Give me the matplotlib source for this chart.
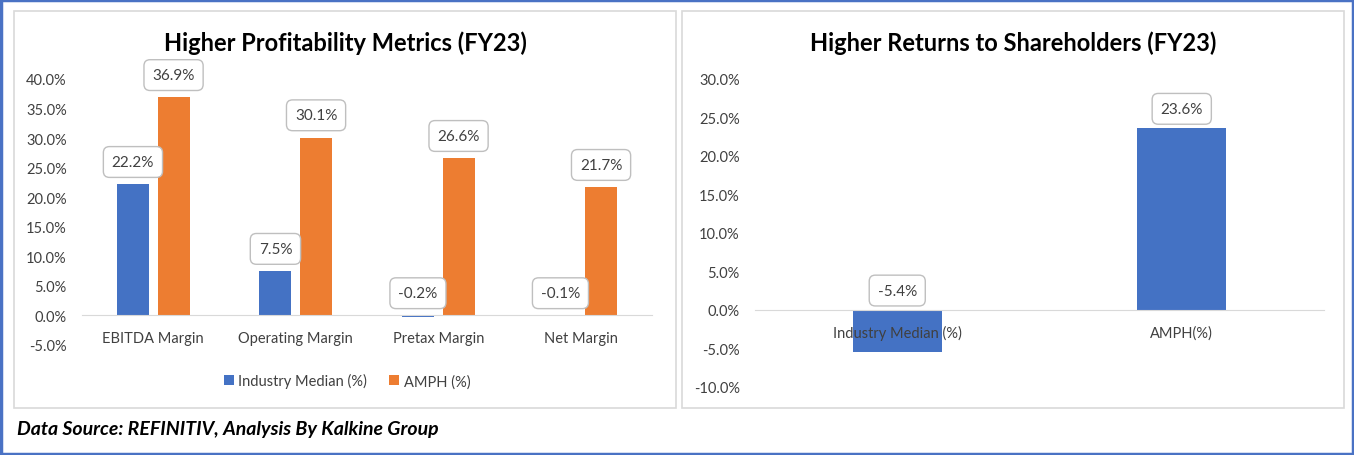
import matplotlib.pyplot as plt
from matplotlib.patches import Rectangle
import numpy as np

plt.rcParams['font.family'] = ['Lato', 'DejaVu Sans']

# Data
metrics = ['EBITDA Margin', 'Operating Margin', 'Pretax Margin', 'Net Margin']
industry_median = [22.2, 7.5, -0.2, -0.1]
amph = [36.9, 30.1, 26.6, 21.7]

ret_labels = ['Industry Median (%)', 'AMPH(%)']
ret_values = [-5.4, 23.6]

BLUE = '#4472C4'
ORANGE = '#ED7D31'
GRID = '#D9D9D9'
TXT = '#404040'

fig = plt.figure(figsize=(13.54, 4.56), dpi=100, facecolor='white')
W, H = 1354, 456


def px_rect(x0, y0, x1, y1, **kw):
    # rectangle in pixel coords (top-left origin)
    r = Rectangle((x0 / W, 1 - y1 / H), (x1 - x0) / W, (y1 - y0) / H,
                  transform=fig.transFigure, fill=False, **kw)
    fig.add_artist(r)


# outer blue border and two panel frames
px_rect(1, 1, W - 1, H - 1, edgecolor='#4A72C4', linewidth=2.5)
px_rect(14, 12, 676, 409, edgecolor=GRID, linewidth=1.2)
px_rect(682, 12, 1344, 409, edgecolor=GRID, linewidth=1.2)


def label_box(ax, x, v, off):
    ax.annotate(f'{v:.1f}%', xy=(x, max(v, 0)), xytext=(0, off),
                textcoords='offset points', ha='center', va='center',
                fontsize=11, color=TXT,
                bbox=dict(boxstyle='round,pad=0.55,rounding_size=0.4',
                          fc='white', ec='#BFBFBF', lw=1))


def style_axis(ax):
    for s in ['top', 'right', 'left']:
        ax.spines[s].set_visible(False)
    ax.spines['bottom'].set_position(('data', 0))
    ax.spines['bottom'].set_color(GRID)
    ax.tick_params(axis='both', length=0, labelsize=10.5, labelcolor=TXT)
    ax.tick_params(axis='y', pad=11)
    ax.tick_params(axis='x', pad=11)
    ax.yaxis.set_major_formatter(plt.FuncFormatter(lambda v, p: f'{v:.1f}%'))


# Left chart
ax1 = fig.add_axes([82 / W, 1 - 346 / H, 570 / W, 266 / H])
x = np.arange(len(metrics))
bw = 0.225
gap = 0.03
ax1.bar(x - bw / 2 - gap, industry_median, bw, color=BLUE,
        label='Industry Median (%)')
ax1.bar(x + bw / 2 + gap, amph, bw, color=ORANGE, label='AMPH (%)')
ax1.set_xlim(-0.5, len(metrics) - 0.5)
ax1.set_ylim(-5, 40)
ax1.set_yticks(np.arange(-5, 41, 5))
ax1.set_xticks(x)
ax1.set_xticklabels(metrics)
style_axis(ax1)
for xi, v in zip(x - bw / 2 - gap, industry_median):
    label_box(ax1, xi, v, 16)
for xi, v in zip(x + bw / 2 + gap, amph):
    label_box(ax1, xi, v, 16)
ax1.legend(loc='center', bbox_to_anchor=(0.465, -0.135), ncol=2,
           frameon=False, fontsize=10.5, handlelength=0.7, handleheight=0.7,
           handletextpad=0.3, columnspacing=1.5, labelcolor=TXT)

# Right chart
ax2 = fig.add_axes([755 / W, 1 - 388 / H, 569 / W, 308 / H])
x2 = np.arange(len(ret_labels))
ax2.bar(x2, ret_values, 0.313, color=BLUE)
ax2.set_xlim(-0.5, len(ret_labels) - 0.5)
ax2.set_ylim(-10, 30)
ax2.set_yticks(np.arange(-10, 31, 5))
ax2.set_xticks(x2)
ax2.set_xticklabels(ret_labels)
style_axis(ax2)
for xi, v in zip(x2, ret_values):
    label_box(ax2, xi, v, 14)

# Titles
fig.text(345 / W, 1 - 43 / H, 'Higher Profitability Metrics (FY23)',
         fontsize=17, fontweight='bold', ha='center', va='center')
fig.text(1013 / W, 1 - 43 / H, 'Higher Returns to Shareholders (FY23)',
         fontsize=17, fontweight='bold', ha='center', va='center')

# Footer
fig.text(17 / W, 1 - 430 / H, 'Data Source: REFINITIV, Analysis By Kalkine Group',
         fontsize=14, fontweight='bold', fontstyle='italic', va='center',
         ha='left', color='black')

fig.savefig('out.png', dpi=100, facecolor='white')
